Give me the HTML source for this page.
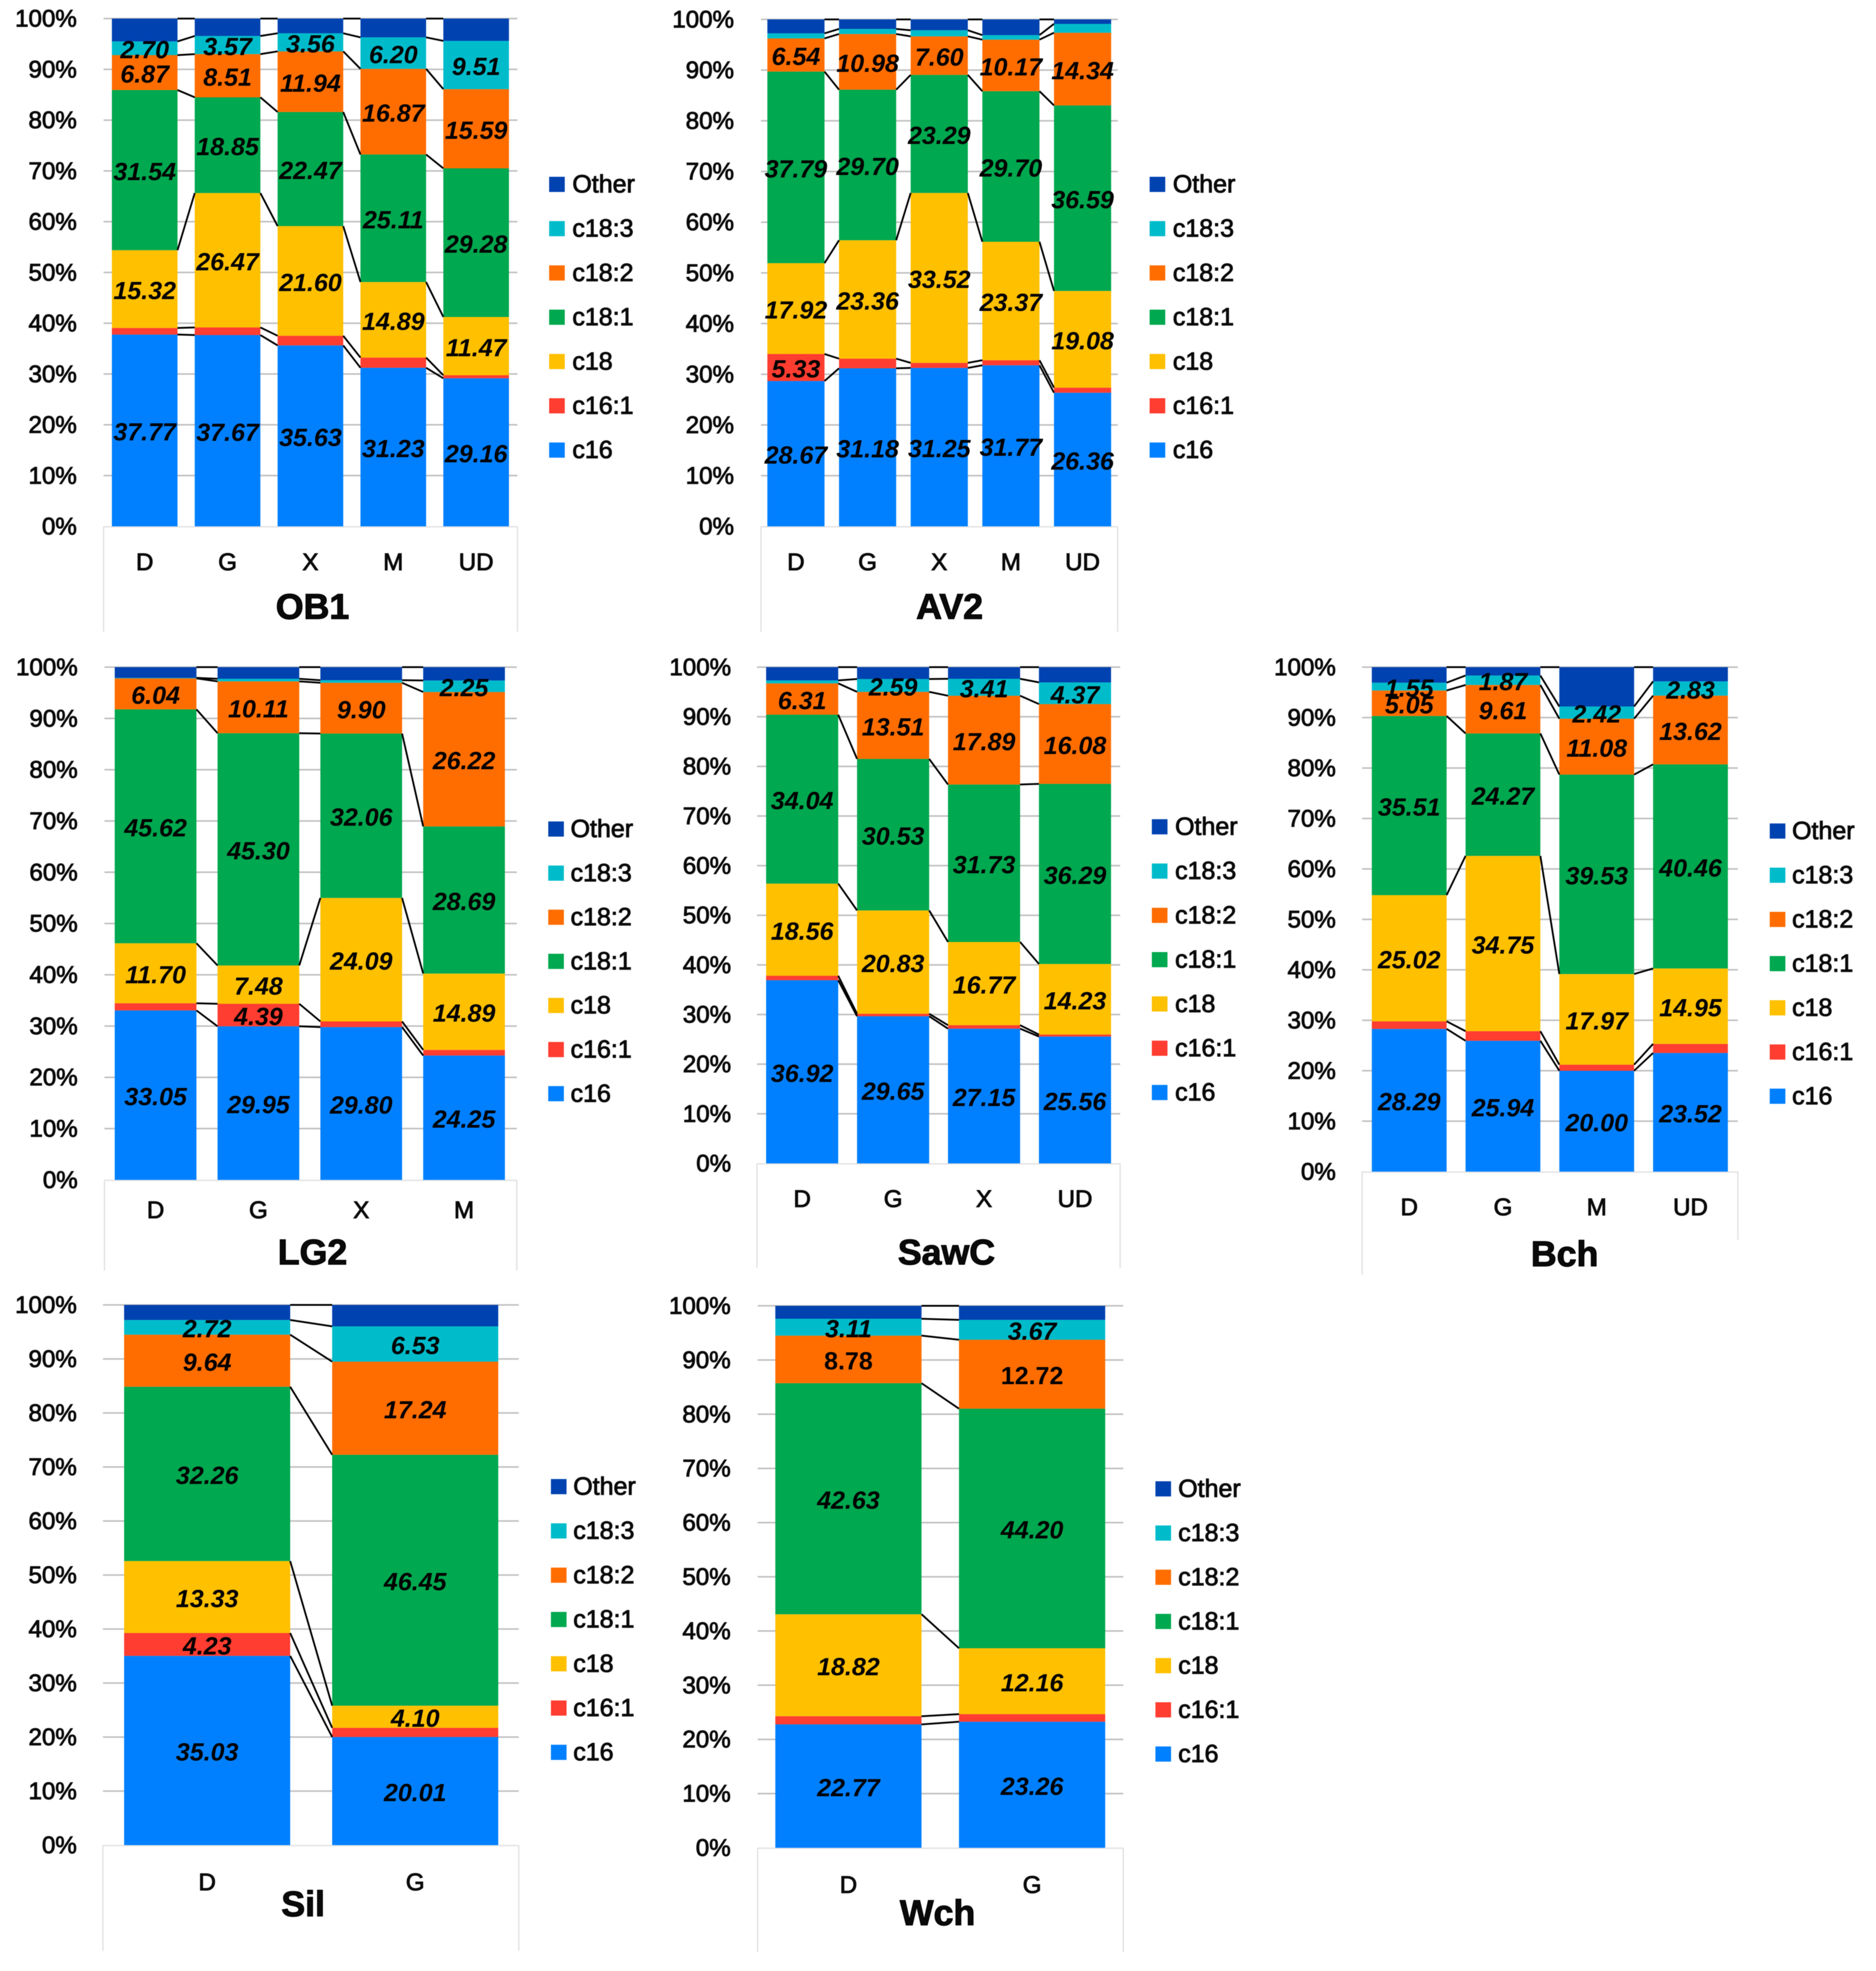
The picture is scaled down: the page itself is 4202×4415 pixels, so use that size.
<!DOCTYPE html>
<html lang="en">
<head>
<meta charset="utf-8">
<title>Fatty acid composition by species</title>
<style>
html,body{margin:0;padding:0;background:#fff;}
svg{display:block;filter:blur(0.9px);}
text{font-family:"Liberation Sans",sans-serif;fill:#0a0a0a;}
.tick{font-size:54px;text-anchor:end;stroke:#0a0a0a;stroke-width:1.8px;}
.cat{font-size:54px;text-anchor:middle;stroke:#0a0a0a;stroke-width:1.8px;}
.legend{font-size:56px;stroke:#0a0a0a;stroke-width:1.8px;}
.title{font-size:80px;font-weight:bold;text-anchor:middle;stroke:#000;stroke-width:2px;}
.value{font-size:56px;font-weight:bold;font-style:italic;text-anchor:middle;fill:#000;}
.value.upright{font-style:normal;}
</style>
</head>
<body>
<svg id="figure" xmlns="http://www.w3.org/2000/svg" width="4202" height="4415" viewBox="0 0 4202 4415"></svg>
<script>
// Shared chart data
const seriesNames = ["c16", "c16:1", "c18", "c18:1", "c18:2", "c18:3", "Other"];
const tickLabels = ["0%", "10%", "20%", "30%", "40%", "50%", "60%", "70%", "80%", "90%", "100%"];
const tickValues = [0, 10, 20, 30, 40, 50, 60, 70, 80, 90, 100];

// OB1
const ob1Categories = ["D", "G", "X", "M", "UD"];
const ob1C16 = [37.77, 37.67, 35.63, 31.23, 29.16];
const ob1C161 = [1.3, 1.5, 1.9, 2.0, 0.6];
const ob1C18 = [15.32, 26.47, 21.60, 14.89, 11.47];
const ob1C181 = [31.54, 18.85, 22.47, 25.11, 29.28];
const ob1C182 = [6.87, 8.51, 11.94, 16.87, 15.59];
const ob1C183 = [2.70, 3.57, 3.56, 6.20, 9.51];
const ob1Other = [4.50, 3.43, 2.90, 3.70, 4.39];

// AV2
const av2Categories = ["D", "G", "X", "M", "UD"];
const av2C16 = [28.67, 31.18, 31.25, 31.77, 26.36];
const av2C161 = [5.33, 1.9, 1.0, 1.0, 1.0];
const av2C18 = [17.92, 23.36, 33.52, 23.37, 19.08];
const av2C181 = [37.79, 29.70, 23.29, 29.70, 36.59];
const av2C182 = [6.54, 10.98, 7.60, 10.17, 14.34];
const av2C183 = [1.0, 1.0, 1.2, 0.9, 1.75];
const av2Other = [2.75, 1.88, 2.14, 3.09, 0.88];

// LG2
const lg2Categories = ["D", "G", "X", "M"];
const lg2C16 = [33.05, 29.95, 29.80, 24.25];
const lg2C161 = [1.4, 4.39, 1.1, 1.1];
const lg2C18 = [11.70, 7.48, 24.09, 14.89];
const lg2C181 = [45.62, 45.30, 32.06, 28.69];
const lg2C182 = [6.04, 10.11, 9.90, 26.22];
const lg2C183 = [0.1, 0.5, 0.5, 2.25];
const lg2Other = [2.09, 2.27, 2.55, 2.60];

// SawC
const sawcCategories = ["D", "G", "X", "UD"];
const sawcC16 = [36.92, 29.65, 27.15, 25.56];
const sawcC161 = [0.9, 0.5, 0.7, 0.4];
const sawcC18 = [18.56, 20.83, 16.77, 14.23];
const sawcC181 = [34.04, 30.53, 31.73, 36.29];
const sawcC182 = [6.31, 13.51, 17.89, 16.08];
const sawcC183 = [0.6, 2.59, 3.41, 4.37];
const sawcOther = [2.67, 2.39, 2.35, 3.07];

// Bch
const bchCategories = ["D", "G", "M", "UD"];
const bchC16 = [28.29, 25.94, 20.00, 23.52];
const bchC161 = [1.5, 1.9, 1.2, 1.8];
const bchC18 = [25.02, 34.75, 17.97, 14.95];
const bchC181 = [35.51, 24.27, 39.53, 40.46];
const bchC182 = [5.05, 9.61, 11.08, 13.62];
const bchC183 = [1.55, 1.87, 2.42, 2.83];
const bchOther = [3.08, 1.66, 7.80, 2.82];

// Sil
const silCategories = ["D", "G"];
const silC16 = [35.03, 20.01];
const silC161 = [4.23, 1.7];
const silC18 = [13.33, 4.10];
const silC181 = [32.26, 46.45];
const silC182 = [9.64, 17.24];
const silC183 = [2.72, 6.53];
const silOther = [2.79, 3.97];

// Wch
const wchCategories = ["D", "G"];
const wchC16 = [22.77, 23.26];
const wchC161 = [1.5, 1.4];
const wchC18 = [18.82, 12.16];
const wchC181 = [42.63, 44.20];
const wchC182 = [8.78, 12.72];
const wchC183 = [3.11, 3.67];
const wchOther = [2.39, 2.59];

// Styling and layout, separate from data
const seriesColors = ["#0080ff", "#ff3d30", "#ffc000", "#00a84f", "#ff6d00", "#00bccb", "#0042b0"];
const svgNS = "http://www.w3.org/2000/svg";

const panels = [
  {id:"ob1", title:"OB1", cats:ob1Categories, series:[ob1C16,ob1C161,ob1C18,ob1C181,ob1C182,ob1C183,ob1Other], minTeal:1.5,
   top:41.6, zero:1179, gridL:232, gridR:1159, first:250.6, step:185.6, bw:147, tickR:172,
   swatch:1230, legendX:1282, legendY:413, legendStep:99.2, catY:1258, titleX:700, titleY:1359, boxL:1415, boxR:1415},
  {id:"av2", title:"AV2", cats:av2Categories, series:[av2C16,av2C161,av2C18,av2C181,av2C182,av2C183,av2Other], minTeal:2,
   top:43.5, zero:1179, gridL:1704.5, gridR:2503.6, first:1718.8, step:160.5, bw:128, tickR:1644,
   swatch:2575, legendX:2627, legendY:413, legendStep:99.2, catY:1258, titleX:2127, titleY:1359, boxL:1415, boxR:1415},
  {id:"lg2", title:"LG2", cats:lg2Categories, series:[lg2C16,lg2C161,lg2C18,lg2C181,lg2C182,lg2C183,lg2Other], minTeal:1.5,
   top:1494.4, zero:2642.9, gridL:234, gridR:1157.6, first:257, step:230.3, bw:183, tickR:174,
   swatch:1228, legendX:1278, legendY:1857, legendStep:98.8, catY:2709.5, titleX:700, titleY:2805, boxL:2846, boxR:2846},
  {id:"sawc", title:"SawC", cats:sawcCategories, series:[sawcC16,sawcC161,sawcC18,sawcC181,sawcC182,sawcC183,sawcOther], minTeal:1.5,
   top:1494.4, zero:2606, gridL:1695.5, gridR:2509, first:1716, step:203.7, bw:161.5, tickR:1637.5,
   swatch:2580, legendX:2632, legendY:1852, legendStep:99.2, catY:2684.5, titleX:2120, titleY:2805, boxL:2840, boxR:2840},
  {id:"bch", title:"Bch", cats:bchCategories, series:[bchC16,bchC161,bchC18,bchC181,bchC182,bchC183,bchOther], minTeal:1.5,
   top:1494.4, zero:2624.4, gridL:3051, gridR:3892.6, first:3072.7, step:210, bw:167.5, tickR:2992,
   swatch:3964, legendX:4014, legendY:1861.5, legendStep:99, catY:2703, titleX:3504.6, titleY:2809, boxL:2856, boxR:2777},
  {id:"sil", title:"Sil", cats:silCategories, series:[silC16,silC161,silC18,silC181,silC182,silC183,silOther], minTeal:1.5,
   top:2923, zero:4133, gridL:230.5, gridR:1162, first:278, step:466, bw:372, tickR:172,
   swatch:1234, legendX:1284, legendY:3330, legendStep:99.2, catY:4215, titleX:679, titleY:4265, boxL:4370, boxR:4370},
  {id:"wch", title:"Wch", cats:wchCategories, series:[wchC16,wchC161,wchC18,wchC181,wchC182,wchC183,wchOther], minTeal:1.5, uprightSeries:4,
   top:2925, zero:4139, gridL:1697, gridR:2516, first:1736.6, step:411.4, bw:327.5, tickR:1636.6,
   swatch:2588, legendX:2639, legendY:3335, legendStep:99, catY:4221, titleX:2100, titleY:4285, boxL:4373, boxR:4373}
];

function mk(tag, attrs, parent) {
  const el = document.createElementNS(svgNS, tag);
  for (const k in attrs) el.setAttribute(k, attrs[k]);
  parent.appendChild(el);
  return el;
}
function yScale(p, v) { return p.zero - (v / 100) * (p.zero - p.top); }
function xBar(p, i) { return p.first + i * p.step; }
function showLabel(p, s, v) {
  if (s === 6) return false;
  if (s === 1) return v >= 4;
  if (s === 5) return v >= p.minTeal;
  return true;
}

const root = document.getElementById("figure");

panels.forEach(function (p) {
  const g = mk("g", {}, root);
  
  

  // gridlines and y ticks
  tickValues.forEach(function (tv, i) {
    const y = yScale(p, tv);
    if (tv > 0) {
      const grid = mk("line", {x1:p.gridL, x2:p.gridR, y1:y, y2:y, stroke:"#c0c0c0", "stroke-width":3.5}, g);
      
      
    }
    const t = mk("text", {x:p.tickR, y:y + 18, class:"tick"}, g);
    t.textContent = tickLabels[i];
    
    
  });

  // category table frame
  const frameTop = mk("line", {x1:p.gridL, x2:p.gridR, y1:p.zero + 1, y2:p.zero + 1, stroke:"#e2e2e2", "stroke-width":3}, g);
  
  
  const frameLeft = mk("line", {x1:p.gridL, x2:p.gridL, y1:p.zero, y2:p.boxL, stroke:"#e2e2e2", "stroke-width":3}, g);
  
  
  const frameRight = mk("line", {x1:p.gridR, x2:p.gridR, y1:p.zero, y2:p.boxR, stroke:"#e2e2e2", "stroke-width":3}, g);
  
  

  // stacked bars
  const tops = p.cats.map(function () { return []; });
  p.cats.forEach(function (cat, c) {
    let acc = 0;
    p.series.forEach(function (values, s) {
      const y1 = yScale(p, acc);
      acc += values[c];
      const y2 = yScale(p, acc);
      tops[c][s] = y2;
      const r = mk("rect", {x:xBar(p, c), y:y2, width:p.bw, height:Math.max(y1 - y2, 0), fill:seriesColors[s]}, g);
      
      
    });
  });

  // series connector lines
  p.series.forEach(function (values, s) {
    for (let c = 0; c < p.cats.length - 1; c++) {
      const l = mk("line", {x1:xBar(p, c) + p.bw, x2:xBar(p, c + 1), y1:tops[c][s], y2:tops[c + 1][s], stroke:"#000", "stroke-width":4}, g);
      
      
    }
  });

  // value labels
  p.cats.forEach(function (cat, c) {
    let acc = 0;
    p.series.forEach(function (values, s) {
      const v = values[c];
      const mid = yScale(p, acc + v / 2);
      acc += v;
      if (!showLabel(p, s, v)) return;
      const upright = p.uprightSeries === s;
      const t = mk("text", {x:xBar(p, c) + p.bw / 2, y:mid + 22.5, class:upright ? "value upright" : "value"}, g);
      t.textContent = v.toFixed(2);
      
      
    });
  });

  // category labels
  p.cats.forEach(function (cat, c) {
    const t = mk("text", {x:xBar(p, c) + p.bw / 2, y:p.catY + 19, class:"cat"}, g);
    t.textContent = cat;
    
    
  });

  // panel title
  const title = mk("text", {x:p.titleX, y:p.titleY + 27, class:"title"}, g);
  title.textContent = p.title;
  
  

  // legend, top entry is the last series
  seriesNames.slice().reverse().forEach(function (name, i) {
    const y = p.legendY + i * p.legendStep;
    const sw = mk("rect", {x:p.swatch, y:y - 17, width:35, height:34, fill:seriesColors[seriesNames.length - 1 - i]}, g);
    
    
    const t = mk("text", {x:p.legendX, y:y + 18, class:"legend"}, g);
    t.textContent = name;
    
    
  });
});
</script>
</body>
</html>
